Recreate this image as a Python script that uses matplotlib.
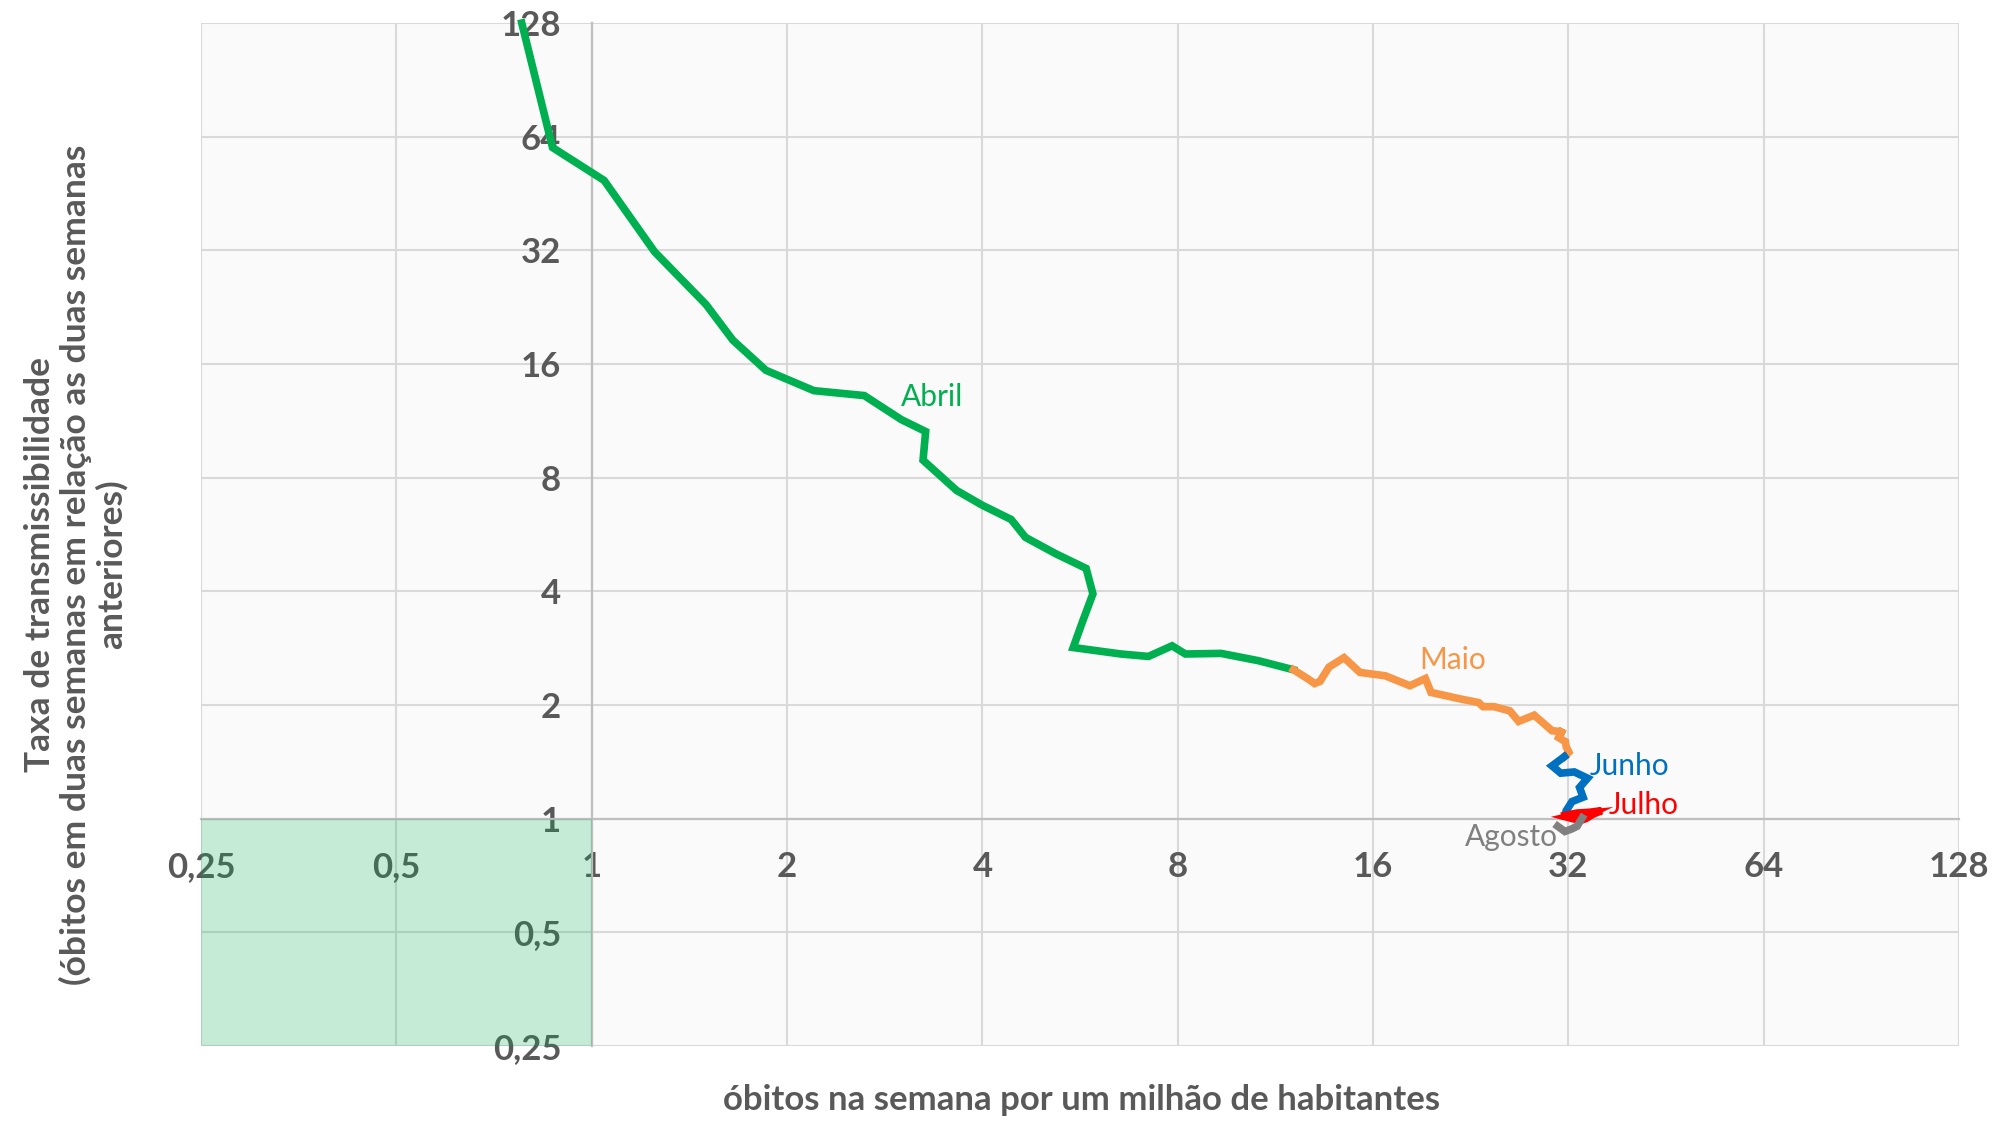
"""Trajectory of weekly deaths vs transmissibility rate (log2 axes)."""

import matplotlib
matplotlib.use("Agg")
import matplotlib.pyplot as plt
from matplotlib.patches import Rectangle
from matplotlib.ticker import FixedLocator, FixedFormatter

plt.rcParams["font.family"] = ["Lato", "DejaVu Sans"]

# axis ticks (powers of two, comma decimals)
TICKS = [0.25, 0.5, 1, 2, 4, 8, 16, 32, 64, 128]
TICK_LABELS = ["0,25", "0,5", "1", "2", "4", "8", "16", "32", "64", "128"]

# one series per month: deaths per million in the week (x), transmissibility (y)
abril_x = [0.78, 0.87, 1.045, 1.25, 1.50, 1.65, 1.855, 2.20, 2.63, 3.0, 3.27,
           3.24, 3.65, 4.0, 4.43, 4.66, 5.19, 5.78, 5.92, 5.70, 5.52, 6.54,
           7.21, 7.84, 8.22, 9.33, 10.66, 12.06]
abril_y = [128, 59.9, 49.0, 31.7, 23.0, 18.5, 15.4, 13.6, 13.2, 11.4, 10.6,
           8.9, 7.4, 6.76, 6.2, 5.56, 5.03, 4.6, 3.94, 3.31, 2.84, 2.73,
           2.69, 2.87, 2.73, 2.74, 2.62, 2.48]

maio_x = [12.06, 12.68, 13.0, 13.25, 13.68, 14.43, 15.27, 16.71, 18.23, 19.26,
          19.65, 21.68, 23.27, 23.64, 24.59, 25.99, 26.82, 28.34, 30.19, 31.25,
          31.40, 30.91, 31.65, 31.75, 32.05, 31.55]
maio_y = [2.48, 2.35, 2.28, 2.31, 2.52, 2.67, 2.44, 2.39, 2.25, 2.35,
          2.16, 2.08, 2.03, 1.98, 1.98, 1.93, 1.81, 1.88, 1.71, 1.70,
          1.73, 1.64, 1.60, 1.55, 1.50, 1.46]

junho_x = [31.55, 30.19, 31.14, 32.67, 34.25, 33.29, 33.71, 32.41, 31.75, 31.6]
junho_y = [1.46, 1.38, 1.32, 1.33, 1.28, 1.21, 1.14, 1.11, 1.05, 1.02]

julho_x = [31.6, 33.0, 34.5, 36.0, 35.0, 34.0, 33.4, 32.5, 31.8, 33.0, 34.8,
           33.6]
julho_y = [1.02, 1.035, 1.04, 1.05, 1.03, 1.0, 0.99, 1.0, 1.01, 1.025, 1.035,
           1.005]

agosto_x = [33.6, 33.0, 32.4, 31.6, 30.8]
agosto_y = [1.005, 0.955, 0.94, 0.925, 0.955]

MONTHS = [
    ("Abril", abril_x, abril_y, "#00b050", (3.35, 13.1)),
    ("Maio", maio_x, maio_y, "#f79646", (21.2, 2.63)),
    ("Junho", junho_x, junho_y, "#0070c0", (39.8, 1.375)),
    ("Julho", julho_x, julho_y, "#ff0000", (41.8, 1.089)),
    ("Agosto", agosto_x, agosto_y, "#808080", (26.1, 0.892)),
]

TEXT_GREY = "#595959"

fig = plt.figure(figsize=(19.95, 11.22), dpi=100)
ax = fig.add_axes([0.1008, 0.0677, 0.8812, 0.9118])
ax.set_facecolor("#fafafa")

ax.set_xscale("log", base=2)
ax.set_yscale("log", base=2)
ax.set_xlim(0.25, 128)
ax.set_ylim(0.25, 128)

for axis in (ax.xaxis, ax.yaxis):
    axis.set_major_locator(FixedLocator(TICKS))
    axis.set_major_formatter(FixedFormatter(TICK_LABELS))
    axis.set_minor_locator(FixedLocator([]))

ax.grid(True, color="#d9d9d9", linewidth=1.5)
ax.set_axisbelow(True)

for side in ("top", "right"):
    ax.spines[side].set_visible(False)
ax.spines["left"].set_position(("data", 1))
ax.spines["bottom"].set_position(("data", 1))
for side in ("left", "bottom"):
    ax.spines[side].set_color("#bfbfbf")
    ax.spines[side].set_linewidth(1.6)

ax.tick_params(axis="x", length=0, pad=23, labelsize=25, labelcolor=TEXT_GREY)
ax.tick_params(axis="y", length=0, pad=22, labelsize=25, labelcolor=TEXT_GREY)
for lab in ax.get_xticklabels() + ax.get_yticklabels():
    lab.set_fontweight("bold")

# green "safe" zone below 1 on both axes
ax.add_patch(Rectangle((0.25, 0.25), 0.75, 0.75, facecolor="#00b050",
                       alpha=0.21, edgecolor="none", zorder=3, clip_on=False))

for name, xs, ys, color, (lx, ly) in MONTHS:
    ax.plot(xs, ys, color=color, linewidth=5.5, solid_joinstyle="miter",
            zorder=4, clip_on=False)
    ax.text(lx, ly, name, color=color, fontsize=21.5, ha="center", va="center",
            zorder=5)

fig.text(0.542, 0.02, "óbitos na semana por um milhão de habitantes",
         ha="center", va="center", fontsize=25, fontweight="bold",
         color=TEXT_GREY)
fig.text(0.038, 0.497,
         "Taxa de transmissibilidade\n"
         "(óbitos em duas semanas em relação as duas semanas\n"
         "anteriores)",
         rotation=90, ha="center", va="center", multialignment="center",
         fontsize=25.5, fontweight="bold", color=TEXT_GREY, linespacing=1.1)

fig.savefig("out.png", dpi=100)
